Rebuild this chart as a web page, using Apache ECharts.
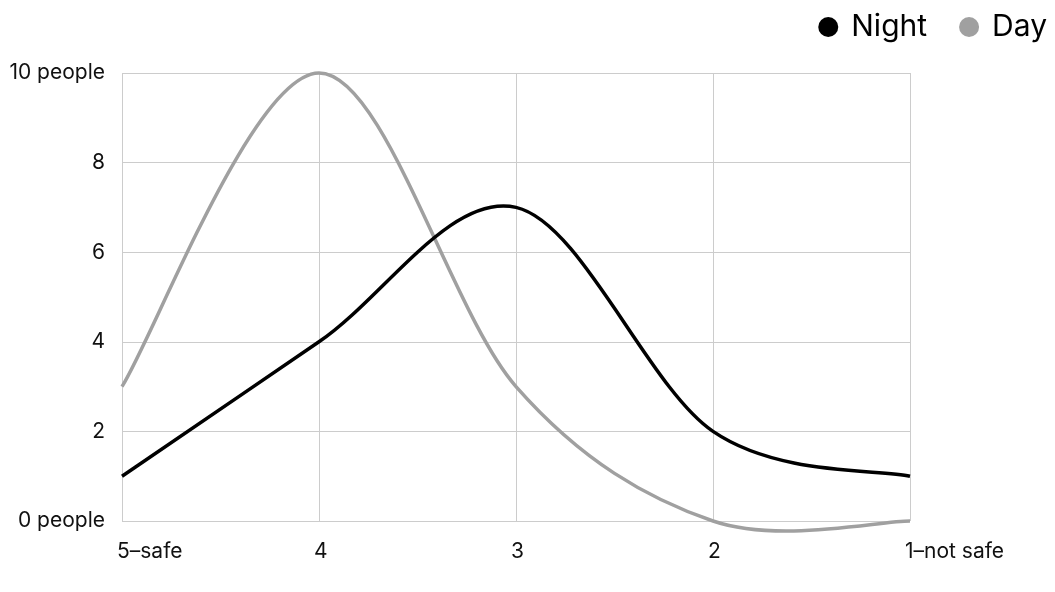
<!DOCTYPE html>
<html>
<head>
<meta charset="utf-8">
<script src="https://cdn.jsdelivr.net/npm/echarts@6/dist/echarts.min.js"></script>
<style>html,body{margin:0;padding:0;background:#fff}#c{width:1055px;height:592px}</style>
</head>
<body>
<div id="c"></div>
<script>
const categories = ['5–safe', '4', '3', '2', '1–not safe'];
const nightValues = [1, 4, 7, 2, 1];
const dayValues = [3, 10, 3, 0, 0];
const yTickLabels = {0: '0 people', 2: '2', 4: '4', 6: '6', 8: '8', 10: '10 people'};

const font = 'Inter, Liberation Sans, Helvetica, Arial, sans-serif';

// Catmull-Rom style smooth path through points mapped by the chart's own scales
function smoothRender(values) {
  return function (params, api) {
    if (params.dataIndexInside !== 0) return null;
    const pts = values.map((v, i) => api.coord([i, v]));
    const n = pts.length;
    const P = i => pts[Math.max(0, Math.min(n - 1, i))];
    const path = [['M', pts[0][0], pts[0][1]]];
    for (let i = 0; i < n - 1; i++) {
      const p0 = P(i - 1), p1 = P(i), p2 = P(i + 1), p3 = P(i + 2);
      const c1 = [p1[0] + (p2[0] - p0[0]) / 6, p1[1] + (p2[1] - p0[1]) / 6];
      const c2 = [p2[0] - (p3[0] - p1[0]) / 6, p2[1] - (p3[1] - p1[1]) / 6];
      path.push(['C', c1[0], c1[1], c2[0], c2[1], p2[0], p2[1]]);
    }
    const d = path.map(s => s[0] + s.slice(1).join(',')).join(' ');
    return {
      type: 'path',
      shape: {pathData: d},
      style: {fill: null, stroke: api.visual('color'), lineWidth: 3.5, lineJoin: 'round'}
    };
  };
}

const chart = echarts.init(document.getElementById('c'));
chart.setOption({
  animation: false,
  textStyle: {fontFamily: font},
  legend: {
    right: 3, top: 7,
    icon: 'circle', itemWidth: 20, itemHeight: 20, itemGap: 32,
    textStyle: {fontSize: 30, color: '#000', fontFamily: font, padding: [0, 0, 0, 8]},
    data: ['Night', 'Day']
  },
  grid: {left: 122, right: 145, top: 73, bottom: 71},
  xAxis: {
    type: 'category', data: categories, boundaryGap: false,
    axisLine: {show: false}, axisTick: {show: false},
    axisLabel: {fontSize: 21, color: '#111', margin: 20, fontFamily: font,
      align: 'left', padding: [0, 0, 0, -5]},
    splitLine: {show: true, lineStyle: {color: '#cccccc', width: 1}}
  },
  yAxis: {
    type: 'value', min: 0, max: 10, interval: 2,
    axisLine: {show: false}, axisTick: {show: false},
    axisLabel: {fontSize: 21, color: '#111', margin: 17, fontFamily: font,
      formatter: v => yTickLabels[v]},
    splitLine: {show: true, lineStyle: {color: '#cccccc', width: 1}}
  },
  series: [
    {name: 'Night', type: 'custom', data: nightValues.map((v, i) => [i, v]),
     renderItem: smoothRender(nightValues), itemStyle: {color: '#000'}, z: 3,
     encode: {x: 0, y: 1}},
    {name: 'Day', type: 'custom', data: dayValues.map((v, i) => [i, v]),
     renderItem: smoothRender(dayValues), itemStyle: {color: '#a0a0a0'}, z: 2,
     encode: {x: 0, y: 1}}
  ]
});
</script>
</body>
</html>
